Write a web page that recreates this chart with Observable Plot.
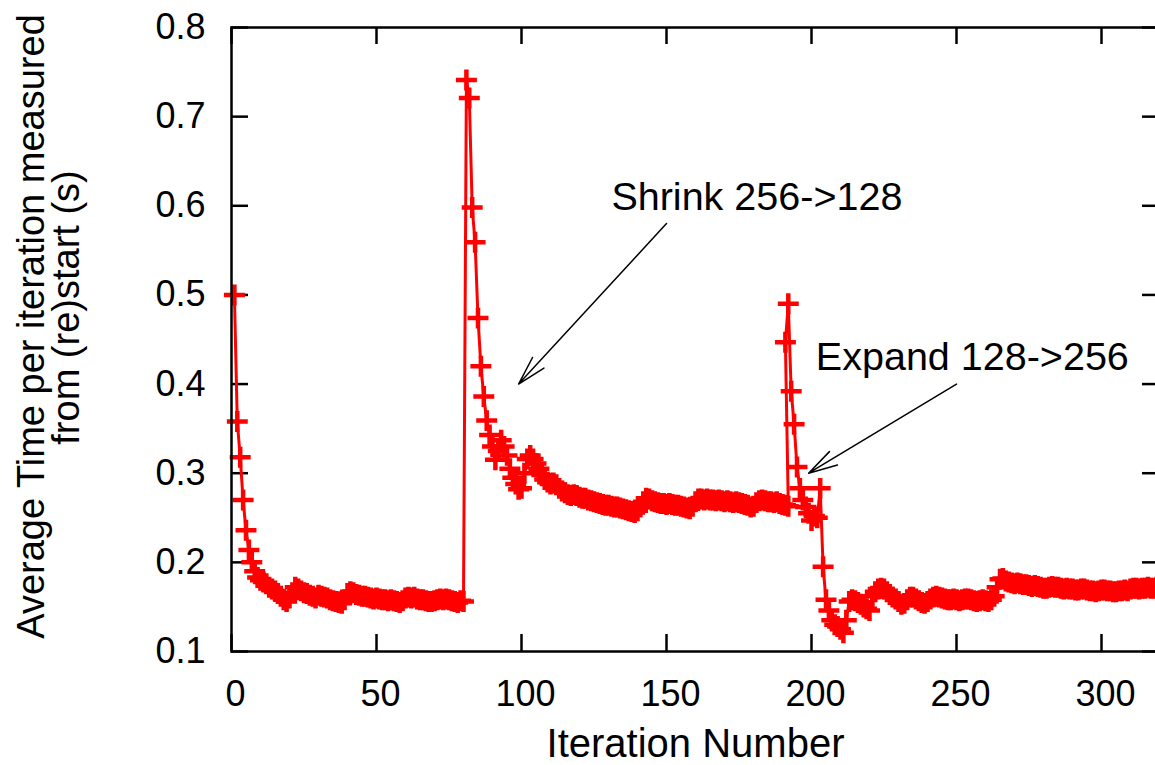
<!DOCTYPE html>
<html>
<head>
<meta charset="utf-8">
<script src="https://cdn.jsdelivr.net/npm/d3@7"></script>
<script src="https://cdn.jsdelivr.net/npm/@observablehq/plot@0.6"></script>
<style>
  html, body { margin: 0; padding: 0; background: #ffffff; overflow: hidden; }
  svg { max-width: none !important; }
</style>
</head>
<body>
<div id="chart"></div>
<script>
// ---- Data ----
// Run 1: 256 processes, iterations 1..80
const run1Start = 1;
const run1Values = [
  0.500, 0.358, 0.318, 0.270, 0.236, 0.214, 0.200, 0.190, 0.183, 0.180,
  0.178, 0.176, 0.172, 0.170, 0.168, 0.165, 0.162, 0.158, 0.156, 0.160,
  0.166, 0.172, 0.170, 0.168, 0.166, 0.165, 0.163, 0.162, 0.160, 0.163,
  0.162, 0.161, 0.160, 0.158, 0.157, 0.156, 0.155, 0.154, 0.158, 0.165,
  0.167, 0.166, 0.164, 0.163, 0.162, 0.162, 0.161, 0.160, 0.159, 0.160,
  0.159, 0.158, 0.158, 0.157, 0.158, 0.157, 0.156, 0.155, 0.157, 0.160,
  0.161, 0.160, 0.161, 0.159, 0.158, 0.158, 0.157, 0.156, 0.156, 0.157,
  0.158, 0.159, 0.158, 0.159, 0.158, 0.157, 0.156, 0.155, 0.157, 0.156
];
// Run 2: after shrink 256->128, restarted at iteration 81
const run2Start = 81;
const run2Values = [
  0.741, 0.721, 0.598, 0.559, 0.474, 0.420, 0.386, 0.359, 0.343, 0.330,
  0.315, 0.325, 0.337, 0.330, 0.320, 0.305, 0.295, 0.288, 0.282, 0.283,
  0.300, 0.316, 0.320, 0.316, 0.311, 0.305, 0.298, 0.293, 0.290, 0.288,
  0.289, 0.287, 0.283, 0.280, 0.278, 0.276, 0.275, 0.276, 0.275, 0.273,
  0.272, 0.272, 0.270, 0.269, 0.268, 0.267, 0.266, 0.265, 0.264, 0.264,
  0.263, 0.262, 0.262, 0.261, 0.260, 0.259, 0.258, 0.257, 0.256, 0.258,
  0.262, 0.268, 0.272, 0.271, 0.269, 0.268, 0.267, 0.266, 0.266, 0.265,
  0.266, 0.265, 0.264, 0.264, 0.263, 0.262, 0.261, 0.260, 0.263, 0.268,
  0.271, 0.271, 0.270, 0.271, 0.270, 0.270, 0.269, 0.270, 0.269, 0.268,
  0.269, 0.268, 0.267, 0.268, 0.267, 0.266, 0.265, 0.264, 0.262, 0.263,
  0.267, 0.269, 0.270, 0.269, 0.268, 0.268, 0.267, 0.268, 0.266, 0.265,
  0.264, 0.263
];
// Run 3: after expand 128->256, restarted at iteration 191
const run3Start = 191;
const run3Values = [
  0.447, 0.490, 0.392, 0.355, 0.307, 0.283, 0.270, 0.262, 0.255, 0.247,
  0.252, 0.250, 0.283, 0.195, 0.158, 0.146, 0.135, 0.130, 0.128, 0.125,
  0.121, 0.135, 0.156, 0.158, 0.157, 0.155, 0.153, 0.150, 0.148, 0.146,
  0.162, 0.167, 0.170, 0.171, 0.170, 0.167, 0.164, 0.161, 0.159, 0.156,
  0.153, 0.154, 0.158, 0.161, 0.161, 0.159, 0.157, 0.155, 0.154, 0.156,
  0.159, 0.161, 0.162, 0.161, 0.160, 0.159, 0.158, 0.158, 0.159, 0.158,
  0.157, 0.158, 0.159, 0.159, 0.158, 0.157, 0.156, 0.157, 0.158, 0.157,
  0.156, 0.158, 0.162, 0.172, 0.181, 0.182, 0.179, 0.178, 0.177, 0.176,
  0.177, 0.176, 0.175, 0.175, 0.174, 0.173, 0.174, 0.173, 0.172, 0.171,
  0.171, 0.172, 0.173, 0.172, 0.172, 0.171, 0.170, 0.171, 0.170, 0.170,
  0.169, 0.169, 0.170, 0.170, 0.169, 0.168, 0.168, 0.167, 0.168, 0.169,
  0.169, 0.168, 0.168, 0.167, 0.167, 0.168, 0.168, 0.169, 0.168, 0.170,
  0.171, 0.171, 0.170, 0.171, 0.171, 0.172, 0.171, 0.171, 0.172, 0.172
];

const xTicks = [0, 50, 100, 150, 200, 250, 300];
const yTicks = [0.1, 0.2, 0.3, 0.4, 0.5, 0.6, 0.7, 0.8];
const xDomain = [0, 320];
const yDomain = [0.1, 0.8];

const xTitle = "Iteration Number";
const yTitleLine1 = "Average Time per iteration measured";
const yTitleLine2 = "from (re)start (s)";

const noteLabels = ["Shrink 256->128", "Expand 128->256"];
const noteTextX = [131, 201.5];
const noteTextY = [0.61, 0.43];
const arrowFromX = [150, 250];
const arrowFromY = [0.58, 0.40];
const arrowToX = [99, 199];
const arrowToY = [0.40, 0.30];

// ---- Build tables ----
const points = [];
[[run1Start, run1Values], [run2Start, run2Values], [run3Start, run3Values]].forEach(([start, vals], r) => {
  vals.forEach((v, i) => points.push({iter: start + i, time: v, run: r}));
});
const notes = noteLabels.map((label, i) => ({
  label, tx: noteTextX[i], ty: noteTextY[i],
  x1: arrowFromX[i], y1: arrowFromY[i], x2: arrowToX[i], y2: arrowToY[i]
}));

const W = 1165, H = 765;
const mL = 231, mR = 6, mT = 27, mB = 114;
const frameW = W - mL - mR, frameH = H - mT - mB;
const tick = 17;
const RED = "#ff0000";

const chart = Plot.plot({
  width: W,
  height: H,
  marginLeft: mL,
  marginRight: mR,
  marginTop: mT,
  marginBottom: mB,
  style: {fontFamily: "'Liberation Sans', Arial, Helvetica, sans-serif", color: "#000", background: "#fff", maxWidth: "none"},
  x: {domain: xDomain},
  y: {domain: yDomain},
  marks: [
    // inward tick marks on all four sides
    Plot.ruleX(xTicks, {insetTop: frameH - tick, stroke: "#000", strokeWidth: 2.5}),
    Plot.ruleX(xTicks, {insetBottom: frameH - tick, stroke: "#000", strokeWidth: 2.5}),
    Plot.ruleY(yTicks, {insetRight: frameW - tick, stroke: "#000", strokeWidth: 2.5}),
    Plot.ruleY(yTicks, {insetLeft: frameW - tick, stroke: "#000", strokeWidth: 2.5}),
    Plot.axisX(xTicks, {tickSize: 0, tickPadding: 29, fontSize: 36, dx: 4, label: null}),
    Plot.axisY(yTicks, {tickSize: 0, tickPadding: 26, fontSize: 36, tickFormat: d3.format(".1f"), label: null}),
    // data
    Plot.line(points, {x: "iter", y: "time", stroke: RED, strokeWidth: 3, strokeLinejoin: "round"}),
    Plot.dot(points, {x: "iter", y: "time", symbol: "plus", r: 6.8, stroke: RED, strokeWidth: 4.5}),
    Plot.frame({stroke: "#000", strokeWidth: 2.5}),
    // annotations
    Plot.arrow(notes, {x1: "x1", y1: "y1", x2: "x2", y2: "y2", stroke: "#000", strokeWidth: 1.5, headLength: 30, headAngle: 30}),
    Plot.text(notes, {x: "tx", y: "ty", text: "label", textAnchor: "start", fontSize: 39.5, fill: "#000"}),
    // titles
    Plot.text([xTitle], {frameAnchor: "bottom", lineAnchor: "middle", textAnchor: "middle", dy: 93, fontSize: 40, fill: "#000"}),
    Plot.text([yTitleLine1], {frameAnchor: "left", textAnchor: "middle", lineAnchor: "middle", rotate: -90, dx: 31 - mL, dy: 326 - (mT + frameH / 2), fontSize: 38, fill: "#000"}),
    Plot.text([yTitleLine2], {frameAnchor: "left", textAnchor: "middle", lineAnchor: "middle", rotate: -90, dx: 66 - mL, dy: 307 - (mT + frameH / 2), fontSize: 38, fill: "#000"})
  ]
});
document.getElementById("chart").appendChild(chart);
</script>
</body>
</html>
